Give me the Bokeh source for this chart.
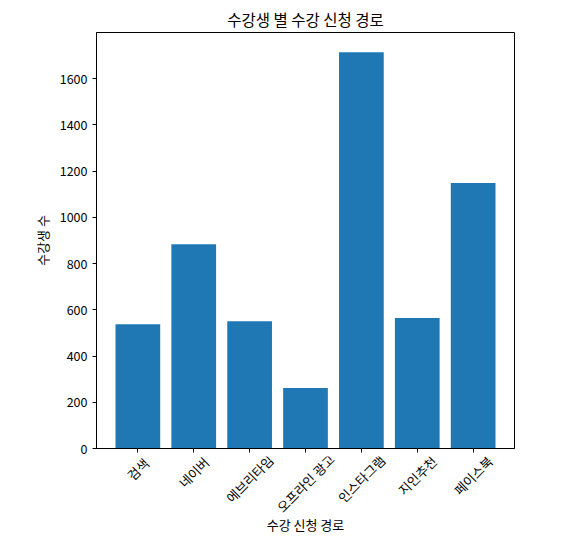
from bokeh.plotting import figure
from bokeh.models import Range1d, FixedTicker, ColumnDataSource, Title
from bokeh.layouts import column
from bokeh.core.properties import value
from bokeh.embed import file_html
from bokeh.resources import INLINE
import math

categories = ["검색", "네이버", "에브리타임", "오프라인 광고", "인스타그램", "지인추천", "페이스북"]
counts = [538, 884, 550, 262, 1714, 565, 1149]
y_ticks = [0, 200, 400, 600, 800, 1000, 1200, 1400, 1600]

FONT = "Noto Sans CJK KR"
TICK_FS = 13.0
LAB_H = 56
xs = list(range(len(categories)))
src = ColumnDataSource(dict(x=xs, top=counts))

x_range = Range1d(-0.74, len(categories) - 1 + 0.74)

p = figure(frame_width=418, frame_height=416, output_backend="svg", toolbar_location=None,
           x_range=x_range, y_range=Range1d(0, max(counts) * 1.05),
           min_border_left=96, min_border_top=32, min_border_right=56, min_border_bottom=8,
           title="수강생 별 수강 신청 경로")
p.vbar(x="x", top="top", width=0.8, source=src, fill_color="#1f77b4", line_color=None)

p.title.align = "center"
p.title.text_font = FONT
p.title.text_font_size = "15.5px"
p.title.text_font_style = "normal"
p.title.text_color = "black"
p.title.standoff = 6

p.xgrid.visible = False
p.ygrid.visible = False
p.outline_line_color = "black"
p.outline_line_width = 1
p.background_fill_color = "white"
p.border_fill_color = "white"

p.xaxis.ticker = FixedTicker(ticks=xs)
p.xaxis.major_label_overrides = {i: "" for i in xs}
p.xaxis.major_label_text_font_size = "0px"
p.xaxis.major_label_standoff = 0
p.yaxis.ticker = FixedTicker(ticks=y_ticks)

for ax in (p.xaxis, p.yaxis):
    ax.axis_line_color = "black"
    ax.major_tick_line_color = "black"
    ax.major_tick_out = 4
    ax.major_tick_in = 0
    ax.minor_tick_line_color = None
    ax.major_label_text_font = FONT
    ax.major_label_text_color = "black"
    ax.axis_label_text_font = FONT
    ax.axis_label_text_font_size = "13px"
    ax.axis_label_text_font_style = "normal"
    ax.axis_label_text_color = "black"
p.yaxis.major_label_text_font_size = "12.5px"
p.yaxis.axis_label = "수강생 수"

# strip below the plot holding matplotlib-style rotated tick labels (box centred under tick)
p2 = figure(frame_width=418, frame_height=LAB_H, output_backend="svg", toolbar_location=None,
            x_range=x_range, y_range=Range1d(-LAB_H, 0),
            x_axis_location=None, y_axis_location=None,
            min_border_left=96, min_border_right=56, min_border_top=0, min_border_bottom=0)
p2.xgrid.visible = False
p2.ygrid.visible = False
p2.outline_line_color = None
p2.background_fill_color = "white"
p2.border_fill_color = "white"

def rotated_box(t):
    w = TICK_FS * (0.7 * sum(1 for ch in t if ch != " ") + 0.25 * t.count(" "))
    h = TICK_FS * 0.9
    return (w + h) / math.sqrt(2)

lab_src = ColumnDataSource(dict(x=xs, y=[-(2 + rotated_box(t) / 2) for t in categories],
                                text=categories))
p2.text(x="x", y="y", text="text", source=lab_src, angle=math.pi / 4,
        text_align="center", text_baseline="middle", text_font=value(FONT),
        text_font_size=f"{TICK_FS}px", text_color="black")

xl = Title(text="수강 신청 경로", align="center", text_font=FONT, text_font_size="13px",
           text_font_style="normal", text_color="black", standoff=0)
p2.add_layout(xl, "below")

open("out.html", "w").write(file_html(column(p, p2, spacing=0), INLINE))
